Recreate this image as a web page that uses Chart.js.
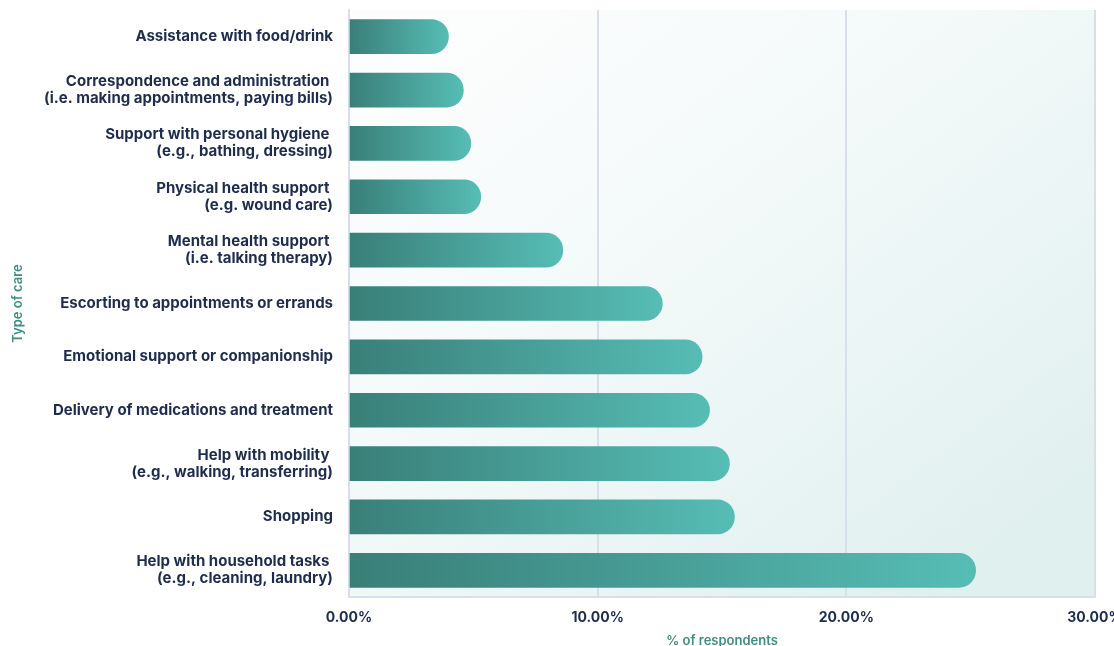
<!DOCTYPE html>
<html>
<head>
<meta charset="utf-8">
<script src="https://cdn.jsdelivr.net/npm/chart.js@4.4.1/dist/chart.umd.min.js"></script>
<style>
  html, body { margin: 0; padding: 0; background: #ffffff; overflow: hidden; }
  #wrap { position: relative; width: 1124px; height: 656px; }
</style>
</head>
<body>
<div id="wrap"><canvas id="care"></canvas></div>
<script>
// type of care, top to bottom (first line keeps a trailing space like the source labels)
var careTypes = [
    ['Assistance with food/drink'],
    ['Correspondence and administration ', '(i.e. making appointments, paying bills)'],
    ['Support with personal hygiene ', '(e.g., bathing, dressing)'],
    ['Physical health support ', '(e.g. wound care)'],
    ['Mental health support ', '(i.e. talking therapy)'],
    ['Escorting to appointments or errands'],
    ['Emotional support or companionship'],
    ['Delivery of medications and treatment'],
    ['Help with mobility ', '(e.g., walking, transferring)'],
    ['Shopping'],
    ['Help with household tasks ', '(e.g., cleaning, laundry)']
];

// share of respondents, %
var respondentShare = [4.0, 4.6, 4.9, 5.3, 8.6, 12.6, 14.2, 14.5, 15.3, 15.5, 25.2];

var xTicks = [0, 10, 20, 30];

var navy = '#1f2c4c';
var teal = '#3f8d84';
var gridColor = '#d9dfe8';

// soft teal wash behind the plot
var plotBackground = {
    id: 'plotBackground',
    beforeDraw: function (chart) {
        var ctx = chart.ctx, a = chart.chartArea;
        var g = ctx.createLinearGradient(a.left + 150, a.top, a.right - 150, a.bottom);
        g.addColorStop(0, '#fcfdfd');
        g.addColorStop(0.4, '#f3f9f9');
        g.addColorStop(1, '#e0f0ef');
        ctx.save();
        ctx.fillStyle = g;
        ctx.fillRect(a.left, a.top, a.right - a.left, a.bottom - a.top);
        ctx.restore();
    }
};

function barGradient(context) {
    var chart = context.chart;
    if (!chart.chartArea) return '#45a39a';
    var x = chart.scales.x;
    var x0 = x.getPixelForValue(0);
    var x1 = x.getPixelForValue(context.raw);
    var g = chart.ctx.createLinearGradient(x0, 0, x1, 0);
    g.addColorStop(0, '#397f78');
    g.addColorStop(1, '#56bdb5');
    return g;
}

var ctx = document.getElementById('care');
new Chart(ctx, {
    type: 'bar',
    data: {
        labels: careTypes,
        datasets: [{
            data: respondentShare,
            backgroundColor: barGradient,
            borderRadius: 20,
            borderSkipped: 'start',
            barThickness: 34
        }]
    },
    options: {
        indexAxis: 'y',
        responsive: true,
        maintainAspectRatio: false,
        animation: false,
        layout: { padding: { top: 10, right: 29, left: 0, bottom: 0 } },
        plugins: {
            legend: { display: false },
            tooltip: { enabled: false }
        },
        scales: {
            x: {
                min: 0,
                max: 30,
                afterBuildTicks: function (scale) {
                    scale.ticks = xTicks.map(function (v) { return { value: v }; });
                },
                afterFit: function (scale) {
                    scale.height = 59;
                    scale.paddingLeft = 0;
                    scale.paddingRight = 0;
                },
                grid: { color: gridColor, lineWidth: 2, drawTicks: false },
                border: { display: true, color: gridColor, width: 2 },
                ticks: {
                    padding: 12,
                    color: navy,
                    font: { family: 'Inter', size: 14, weight: '700' },
                    callback: function (v) { return Number(v).toFixed(2) + '%'; }
                },
                title: {
                    display: true,
                    text: '% of respondents',
                    color: teal,
                    font: { family: 'Inter', size: 13, weight: '600' },
                    padding: { top: 0, bottom: 7 }
                }
            },
            y: {
                afterFit: function (scale) {
                    scale.width = 349;
                    scale.paddingTop = 0;
                    scale.paddingBottom = 0;
                },
                grid: { display: false, drawTicks: false },
                border: { display: true, color: gridColor, width: 2 },
                ticks: {
                    padding: 16,
                    color: navy,
                    autoSkip: false,
                    font: { family: 'Inter', size: 15, weight: '700', lineHeight: 1.13 }
                },
                title: {
                    display: true,
                    text: 'Type of care',
                    color: teal,
                    font: { family: 'Inter', size: 13, weight: '600' },
                    padding: { top: 10, bottom: 0 }
                }
            }
        }
    },
    plugins: [plotBackground]
});
</script>
</body>
</html>
